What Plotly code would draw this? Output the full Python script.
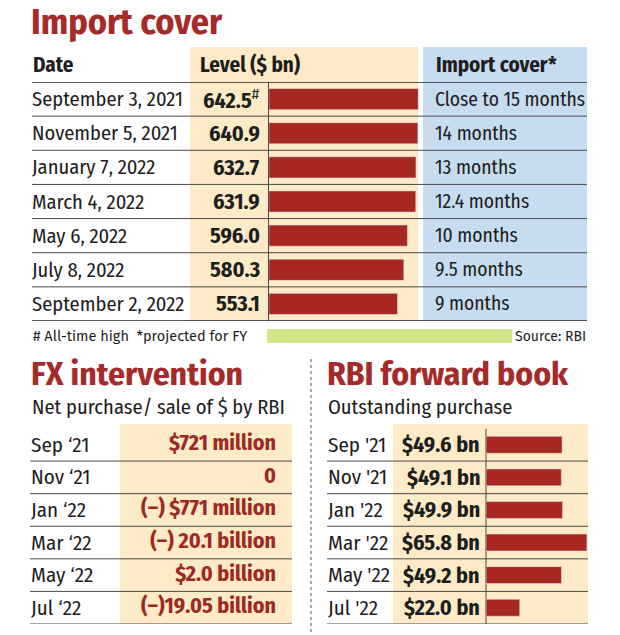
import plotly.graph_objects as go

# ---------------- data ----------------
dates = ["September 3, 2021", "November 5, 2021", "January 7, 2022", "March 4, 2022",
         "May 6, 2022", "July 8, 2022", "September 2, 2022"]
levels = [642.5, 640.9, 632.7, 631.9, 596.0, 580.3, 553.1]
level_marks = ["#", "", "", "", "", "", ""]
import_cover = ["Close to 15 months", "14 months", "13 months", "12.4 months",
                "10 months", "9.5 months", "9 months"]

fx_months = ["Sep \u201821", "Nov \u201821", "Jan \u201822", "Mar \u201822", "May \u201822", "Jul \u201822"]
fx_values = ["$721 million", "0", "(\u2013) $771 million", "(\u2013) 20.1 billion",
             "$2.0 billion", "(\u2013)19.05 billion"]

fwd_months = ["Sep '21", "Nov '21", "Jan '22", "Mar '22", "May '22", "Jul '22"]
fwd_values = [49.6, 49.1, 49.9, 65.8, 49.2, 22.0]

# ---------------- style ----------------
W, H = 620, 635
FN = "Fira Sans Condensed, Roboto Condensed, sans-serif"
FS = "Fira Sans, Open Sans, sans-serif"
RED = "#a62821"
TRED = "#a52a2a"
INK = "#1e1e1e"
BEIGE = "#fdeac6"
BLUE = "#c7dcee"
GREEN = "#d3e58b"
LINE = "#4a4a4a"


def px(x):
    return x / W


def py(y):
    return 1 - y / H


fig = go.Figure()

# top table bars
fig.add_trace(go.Bar(y=dates, x=levels, orientation="h", marker_color=RED, width=0.62,
                     xaxis="x", yaxis="y", hoverinfo="skip", showlegend=False))
# FX values (text only)
fig.add_trace(go.Scatter(y=fx_months, x=[1] * len(fx_months), mode="text", text=[f"<b>{v}</b>" for v in fx_values],
                         textposition="middle left",
                         textfont=dict(family=FN, size=22, color="#9e2923"),
                         xaxis="x2", yaxis="y2", hoverinfo="skip", showlegend=False))
# forward book bars
fig.add_trace(go.Bar(y=fwd_months, x=fwd_values, orientation="h", marker_color=RED, width=0.52,
                     xaxis="x3", yaxis="y3", hoverinfo="skip", showlegend=False))

shapes = []
ann = []

# ---- top table backgrounds ----
shapes.append(dict(type="rect", xref="paper", yref="paper", x0=px(190), x1=px(418), y0=py(321), y1=py(47),
                   fillcolor=BEIGE, line_width=0, layer="below"))
shapes.append(dict(type="rect", xref="paper", yref="paper", x0=px(423), x1=px(587), y0=py(321), y1=py(47),
                   fillcolor=BLUE, line_width=0, layer="below"))
# vertical separator at bar base
shapes.append(dict(type="line", xref="paper", yref="y", x0=px(268.5), x1=px(268.5), y0=-0.5, y1=6.5,
                   line=dict(color=LINE, width=1), layer="below"))
# row lines
for k in range(len(dates) + 1):
    w = 1.6 if k in (0, len(dates)) else 1
    shapes.append(dict(type="line", xref="paper", yref="y", x0=px(32), x1=px(587), y0=k - 0.5, y1=k - 0.5,
                       line=dict(color="#222" if k in (0, len(dates)) else LINE, width=w), layer="below"))

# title
ann.append(dict(text="<b>Import cover</b>", x=px(29), y=py(22), xref="paper", yref="paper",
                xanchor="left", yanchor="middle", showarrow=False, font=dict(family=FN, size=36, color=TRED)))
# headers
for t, x in [("Date", 31), ("Level ($ bn)", 198), ("Import cover*", 434)]:
    ann.append(dict(text=f"<b>{t}</b>", x=px(x), y=py(65), xref="paper", yref="paper",
                    xanchor="left", yanchor="middle", showarrow=False, font=dict(family=FN, size=21, color=INK)))
# rows
for d, v, m, c in zip(dates, levels, level_marks, import_cover):
    ann.append(dict(text=d, x=px(30), y=d, xref="paper", yref="y", xanchor="left", yanchor="middle",
                    showarrow=False, font=dict(family=FN, size=20.5, color=INK)))
    lab = f"<b>{v:.1f}</b>" + (f"<sup>{m}</sup>" if m else "")
    ann.append(dict(text=lab, x=px(262), y=d, xref="paper", yref="y", xanchor="right", yanchor="middle",
                    showarrow=False, font=dict(family=FN, size=22, color=INK)))
    ann.append(dict(text=c, x=px(433), y=d, xref="paper", yref="y", xanchor="left", yanchor="middle",
                    showarrow=False, font=dict(family=FN, size=19.5, color=INK)))

# footer
shapes.append(dict(type="rect", xref="paper", yref="paper", x0=px(267), x1=px(512), y0=py(343), y1=py(329),
                   fillcolor=GREEN, line_width=0, layer="below"))
ann.append(dict(text="# All-time high  *projected for FY", x=px(31), y=py(336), xref="paper", yref="paper",
                xanchor="left", yanchor="middle", showarrow=False, font=dict(family=FS, size=14.5, color=INK)))
ann.append(dict(text="Source: RBI", x=px(588), y=py(336), xref="paper", yref="paper",
                xanchor="right", yanchor="middle", showarrow=False, font=dict(family=FS, size=14, color=INK)))

# ---- bottom left: FX intervention ----
shapes.append(dict(type="rect", xref="paper", yref="paper", x0=px(120), x1=px(292), y0=py(624), y1=py(424),
                   fillcolor=BEIGE, line_width=0, layer="below"))
for k in range(len(fx_months)):
    shapes.append(dict(type="line", xref="paper", yref="y2", x0=px(30), x1=px(292), y0=k + 0.5, y1=k + 0.5,
                       line=dict(color=LINE, width=1), layer="below"))
ann.append(dict(text="<b>FX intervention</b>", x=px(29), y=py(374), xref="paper", yref="paper",
                xanchor="left", yanchor="middle", showarrow=False, font=dict(family=FN, size=33.5, color=TRED)))
ann.append(dict(text="Net purchase/ sale of $ by RBI", x=px(30), y=py(407), xref="paper", yref="paper",
                xanchor="left", yanchor="middle", showarrow=False, font=dict(family=FN, size=20.5, color=INK)))
for m in fx_months:
    ann.append(dict(text=m, x=px(29), y=m, xref="paper", yref="y2", xanchor="left", yanchor="middle",
                    showarrow=False, font=dict(family=FN, size=21, color=INK)))

# dotted divider
shapes.append(dict(type="line", xref="paper", yref="paper", x0=px(311), x1=px(311), y0=py(632), y1=py(358),
                   line=dict(color="#555", width=1, dash="dot"), layer="below"))

# ---- bottom right: forward book ----
shapes.append(dict(type="rect", xref="paper", yref="paper", x0=px(393), x1=px(588), y0=py(624), y1=py(424),
                   fillcolor=BEIGE, line_width=0, layer="below"))
shapes.append(dict(type="line", xref="paper", yref="y3", x0=px(486), x1=px(486), y0=-0.5, y1=5.5,
                   line=dict(color=LINE, width=1), layer="below"))
for k in range(len(fwd_months)):
    shapes.append(dict(type="line", xref="paper", yref="y3", x0=px(327), x1=px(588), y0=k + 0.5, y1=k + 0.5,
                       line=dict(color=LINE, width=1), layer="below"))
ann.append(dict(text="<b>RBI forward book</b>", x=px(325), y=py(374), xref="paper", yref="paper",
                xanchor="left", yanchor="middle", showarrow=False, font=dict(family=FN, size=33.5, color=TRED)))
ann.append(dict(text="Outstanding purchase", x=px(326), y=py(407), xref="paper", yref="paper",
                xanchor="left", yanchor="middle", showarrow=False, font=dict(family=FN, size=20.5, color=INK)))
for m, v in zip(fwd_months, fwd_values):
    ann.append(dict(text=m, x=px(326), y=m, xref="paper", yref="y3", xanchor="left", yanchor="middle",
                    showarrow=False, font=dict(family=FN, size=21, color=INK)))
    ann.append(dict(text=f"<b>${v:.1f} bn</b>", x=px(482), y=m, xref="paper", yref="y3", xanchor="right",
                    yanchor="middle", showarrow=False, font=dict(family=FN, size=22, color=INK)))

hidden = dict(visible=False, fixedrange=True)
fig.update_layout(
    width=W, height=H, autosize=False,
    margin=dict(l=0, r=0, t=0, b=0, pad=0),
    paper_bgcolor="white", plot_bgcolor="rgba(0,0,0,0)",
    showlegend=False, bargap=0,
    xaxis=dict(domain=[px(269), px(420)], range=[0, 650], anchor="y", **hidden),
    yaxis=dict(domain=[py(321), py(82)], categoryorder="array", categoryarray=dates,
               range=[6.5, -0.5], anchor="x", **hidden),
    xaxis2=dict(domain=[px(122), px(276)], range=[0, 1], anchor="y2", **hidden),
    yaxis2=dict(domain=[py(624), py(428.5)], categoryorder="array", categoryarray=fx_months,
                range=[5.5, -0.5], anchor="x2", **hidden),
    xaxis3=dict(domain=[px(486), px(588)], range=[0, 66.5], anchor="y3", **hidden),
    yaxis3=dict(domain=[py(624), py(428.5)], categoryorder="array", categoryarray=fwd_months,
                range=[5.5, -0.5], anchor="x3", **hidden),
    shapes=shapes, annotations=ann,
)

fig.write_html("out.html", config={"displayModeBar": False, "staticPlot": True},
               post_script="document.body.style.margin='0';document.body.style.overflow='hidden';")
